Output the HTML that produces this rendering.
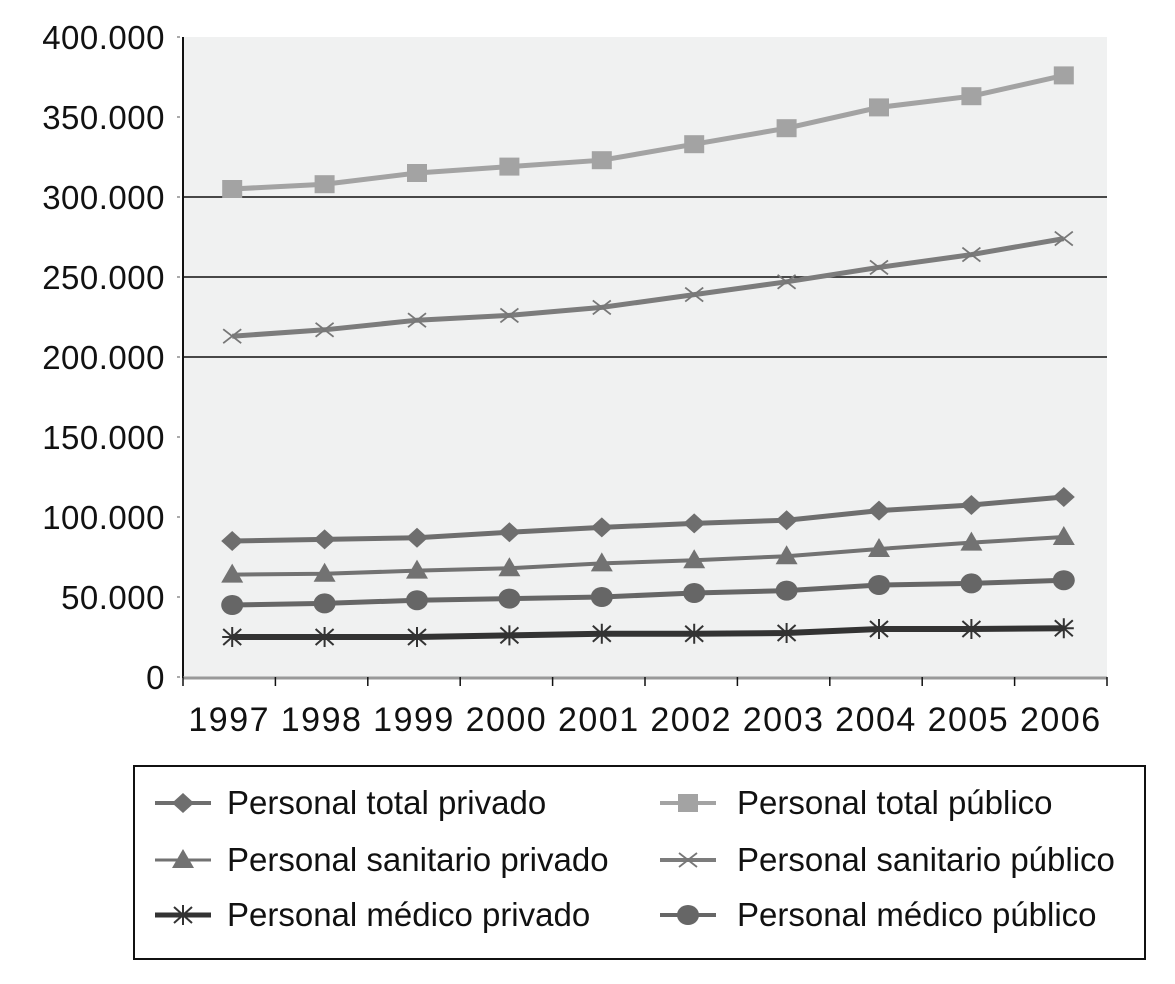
<!DOCTYPE html>
<html><head><meta charset="utf-8"><style>
body{margin:0;background:#fff;}
svg text{font-family:"Liberation Sans",sans-serif;fill:#111;}
</style></head><body>
<svg id="chart" width="1175" height="979" viewBox="0 0 1175 979" xmlns="http://www.w3.org/2000/svg">
<rect x="183" y="37" width="924" height="641" fill="#f0f1f1"/>
<g id="grid"></g><g id="axes"></g><g id="series"></g>
<rect x="134" y="766" width="1011" height="193" fill="none" stroke="#111" stroke-width="2"/>
<g id="legend"></g>
</svg>
<script>
const years = ["1997","1998","1999","2000","2001","2002","2003","2004","2005","2006"];
const yTicks = [0,50000,100000,150000,200000,250000,300000,350000,400000];
const yTickLabels = ["0","50.000","100.000","150.000","200.000","250.000","300.000","350.000","400.000"];
const gridValues = [200000,250000,300000];
const totalPublico = [305000,308000,315000,319000,323000,333000,343000,356000,363000,376000];
const sanitarioPublico = [213000,217000,223000,226000,231000,239000,247000,256000,264000,274000];
const totalPrivado = [85000,86000,87000,90500,93500,96000,98000,104000,107500,112500];
const sanitarioPrivado = [64000,64500,66500,68000,71000,73000,75500,80000,84000,87500];
const medicoPublico = [45000,46000,48000,49000,50000,52500,54000,57500,58500,60500];
const medicoPrivado = [25000,25000,25000,26000,27000,27000,27500,30000,30000,30500];
const seriesNames = ["Personal total privado","Personal total público","Personal sanitario privado","Personal sanitario público","Personal médico privado","Personal médico público"];

const NS="http://www.w3.org/2000/svg";
const L=183,R=1107,T=37,B=677;
const step=(R-L)/years.length;
const xs=i=>L+step*(i+0.5)+3;
const ys=v=>B-(v/400000)*(B-T);
function mk(tag,parent,attrs){const e=document.createElementNS(NS,tag);for(const k in attrs)e.setAttribute(k,attrs[k]);parent.appendChild(e);return e;}
const grid=document.getElementById('grid'),axes=document.getElementById('axes'),ser=document.getElementById('series'),leg=document.getElementById('legend');
gridValues.forEach(v=>{const l=mk('line',grid,{x1:L,x2:R,y1:ys(v),y2:ys(v),stroke:'#111','stroke-width':1.5});

});
let a=mk('line',axes,{x1:L,x2:L,y1:T,y2:B+1,stroke:'#111','stroke-width':2});


a=mk('line',axes,{x1:L,x2:R,y1:B+1,y2:B+1,stroke:'#999','stroke-width':3});


yTicks.forEach((v,i)=>{const t=mk('text',axes,{x:165,y:ys(v)+12,'text-anchor':'end','font-size':33,'letter-spacing':0.5});t.textContent=yTickLabels[i];


mk('line',axes,{x1:177,x2:180,y1:ys(v),y2:ys(v),stroke:'#555','stroke-width':1});});
for(let i=0;i<=years.length;i++){mk('line',axes,{x1:L+step*i,x2:L+step*i,y1:B,y2:B+9,stroke:'#111','stroke-width':1.5});}
years.forEach((y,i)=>{const t=mk('text',axes,{x:xs(i)-3,y:731,'text-anchor':'middle','font-size':34,'letter-spacing':1.5});t.textContent=y;

});

function marker(g,type,x,y,c){
 if(type==='diamond')mk('polygon',g,{points:`${x},${y-10} ${x+11},${y} ${x},${y+10} ${x-11},${y}`,fill:c});
 else if(type==='square')mk('rect',g,{x:x-10,y:y-9,width:20,height:18,fill:c});
 else if(type==='triangle')mk('polygon',g,{points:`${x},${y-11} ${x+11},${y+8} ${x-11},${y+8}`,fill:c});
 else if(type==='x'){mk('path',g,{d:`M${x-9},${y-7}L${x+9},${y+7}M${x-9},${y+7}L${x+9},${y-7}`,stroke:c,'stroke-width':1.8,fill:'none'});}
 else if(type==='star'){mk('path',g,{d:`M${x-9},${y-8}L${x+9},${y+8}M${x-9},${y+8}L${x+9},${y-8}M${x},${y-10}L${x},${y+10}M${x-10},${y}L${x+10},${y}`,stroke:c,'stroke-width':2,fill:'none'});}
 else if(type==='circle')mk('ellipse',g,{cx:x,cy:y,rx:11,ry:10,fill:c});
}
const defs=[
 {d:totalPrivado,c:'#6e6e6e',w:5,m:'diamond',n:'series-total-privado'},
 {d:totalPublico,c:'#a3a3a3',w:5,m:'square',n:'series-total-publico'},
 {d:sanitarioPrivado,c:'#727272',w:4,m:'triangle',n:'series-sanitario-privado'},
 {d:sanitarioPublico,c:'#7c7c7c',w:5,m:'x',n:'series-sanitario-publico'},
 {d:medicoPrivado,c:'#333333',w:6,m:'star',n:'series-medico-privado'},
 {d:medicoPublico,c:'#666666',w:5,m:'circle',n:'series-medico-publico'}];
defs.forEach(s=>{const g=mk('g',ser,{});
 
 
 mk('polyline',g,{points:s.d.map((v,i)=>xs(i)+','+ys(v)).join(' '),fill:'none',stroke:s.c,'stroke-width':s.w});
 s.d.forEach((v,i)=>marker(g,s.m,xs(i),ys(v),s.m==='x'?'#777':s.c));});
const lpos=[[155,227,803],[660,737,803],[155,227,860],[660,737,860],[155,227,915],[660,737,915]];
defs.forEach((s,i)=>{const [mx,tx,ly]=lpos[i];const g=mk('g',leg,{});
 
 
 mk('line',g,{x1:mx,x2:mx+56,y1:ly,y2:ly,stroke:s.c,'stroke-width':s.w-1});
 marker(g,s.m,mx+28,ly,s.m==='x'?'#777':s.c);
 const t=mk('text',g,{x:tx,y:ly+11,'font-size':33});t.textContent=seriesNames[i];});
</script>
</body></html>
